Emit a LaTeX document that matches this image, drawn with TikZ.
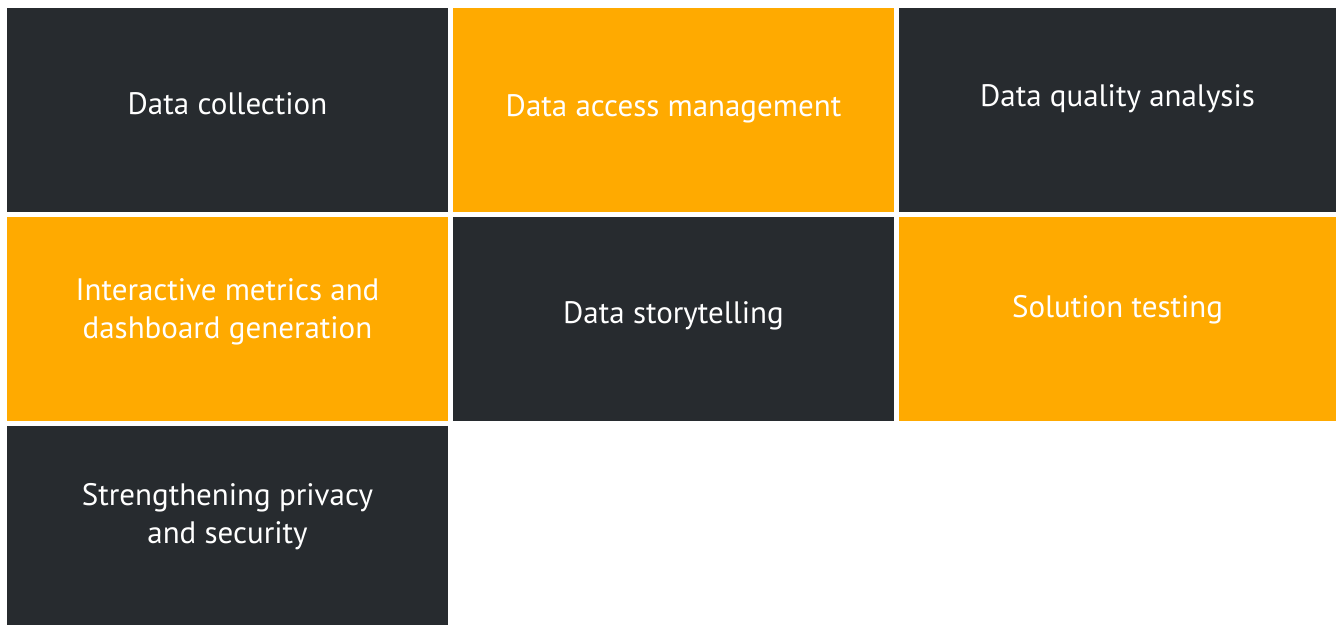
\documentclass[tikz,border=0pt]{standalone}
\usepackage{fontspec}
\setmainfont{PT Sans}
\usepackage{tikz}

\definecolor{tiledark}{HTML}{272B2F}
\definecolor{tileamber}{HTML}{FFAA00}

\tikzset{
	tile/.style={draw=none, inner sep=0pt, anchor=north west, minimum width=441pt, minimum height=204pt},
	darktile/.style={tile, fill=tiledark},
	ambertile/.style={tile, fill=tileamber},
	caption/.style={text=white, inner sep=0pt, align=center, anchor=base, font=\fontsize{31}{38}\selectfont}
}

\begin{document}
\begin{tikzpicture}[x=1pt, y=-1pt]
	\useasboundingbox (0,0) rectangle (1336,625);

	% first row
	\node[darktile] (collect) at (7,8) {};
	\node[ambertile] (access) at (453,8) {};
	\node[darktile, minimum width=437pt] (quality) at (899,8) {};

	% second row
	\node[ambertile] (metrics) at (7,217) {};
	\node[darktile] (story) at (453,217) {};
	\node[ambertile, minimum width=437pt] (testing) at (899,217) {};

	% third row
	\node[darktile, minimum height=199pt] (privacy) at (7,426) {};

	% captions (two-line ones sit on the baseline of their last line)
	\node[caption] (collecttext) at (227.5,114) {Data collection};
	\node[caption] (accesstext) at (673.5,116) {Data access management};
	\node[caption] (qualitytext) at (1117.5,106) {Data quality analysis};
	\node[caption] (metricstext) at (227.5,338) {Interactive metrics and\\dashboard generation};
	\node[caption] (storytext) at (673.5,323.5) {Data storytelling};
	\node[caption] (testingtext) at (1117.5,317) {Solution testing};
	\node[caption] (privacytext) at (227.5,543) {Strengthening privacy\\and security};
\end{tikzpicture}
\end{document}
